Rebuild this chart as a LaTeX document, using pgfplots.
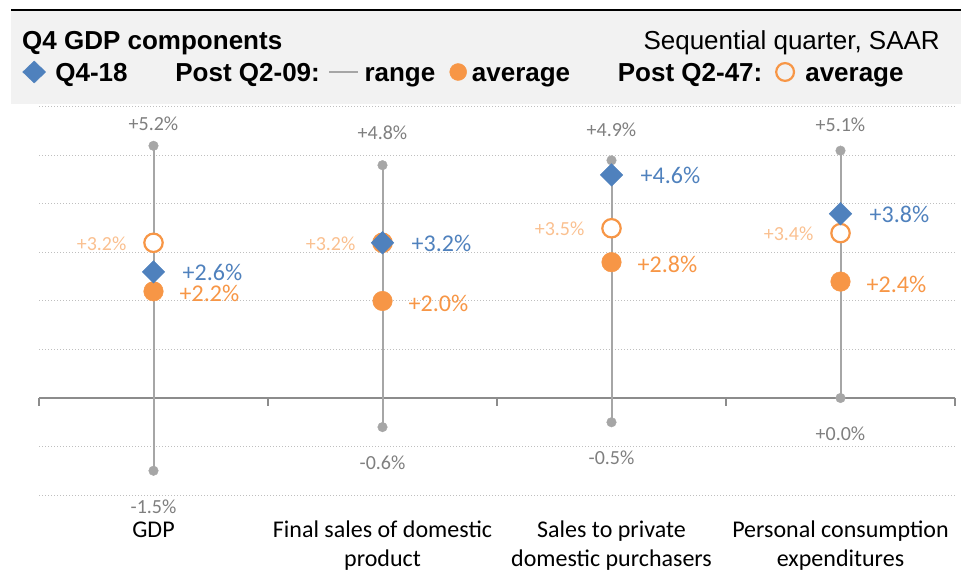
\documentclass[border=0pt]{standalone}
\usepackage{fontspec}
\setmainfont{Carlito}
\newfontfamily\arialfont{Liberation Sans}
\usepackage{pgfplots}
\pgfplotsset{compat=1.18}
\usepackage{pgfplotstable}

\definecolor{blueQ}{HTML}{4F81BD}
\definecolor{orangeA}{HTML}{F79646}
\definecolor{lightorange}{HTML}{FAC090}
\definecolor{labelgray}{HTML}{7F7F7F}
\definecolor{rangegray}{HTML}{A6A6A6}
\definecolor{gridgray}{HTML}{BFBFBF}
\definecolor{axisgray}{HTML}{8C8C8C}
\definecolor{boxfill}{HTML}{F2F2F2}

\pgfplotstableread{
x lo hi q4 avgA avgB dytop lolab hilab q4lab avgAlab avgBlab
0 -1.5 5.2 2.6 2.2 3.2 22 -1.5 +5.2 +2.6 +2.2 +3.2
1 -0.6 4.8 3.2 2.0 3.2 32 -0.6 +4.8 +3.2 +2.0 +3.2
2 -0.5 4.9 4.6 2.8 3.5 31 -0.5 +4.9 +4.6 +2.8 +3.5
3 0.0 5.1 3.8 2.4 3.4 26 +0.0 +5.1 +3.8 +2.4 +3.4
}\gdpdata

\begin{document}
\begin{tikzpicture}
\useasboundingbox (0bp,0bp) rectangle (961bp,571bp);
\fill[boxfill] (11bp,467bp) rectangle (961bp,561bp);
\draw[black, line width=1.8bp] (11bp,561bp) -- (961bp,561bp);
\node[anchor=base west, inner sep=0pt, font=\arialfont\bfseries\fontsize{26bp}{30bp}\selectfont] at (22bp,521bp) {Q4 GDP components};
\node[anchor=base east, inner sep=0pt, font=\arialfont\fontsize{26bp}{30bp}\selectfont] at (940bp,521bp) {Sequential quarter, SAAR};

\begin{axis}[
  at={(39bp,76bp)}, anchor=south west,
  scale only axis, width=916bp, height=388bp,
  xmin=-0.5, xmax=3.5, ymin=-2, ymax=6,
  clip=false,
  axis line style={draw=none},
  major tick length=0pt,
  xtick={0,1,2,3},
  xticklabels={{\rule{0pt}{18bp}GDP},
               {\rule{0pt}{18bp}Final sales of domestic\\product},
               {\rule{0pt}{18bp}Sales to private\\domestic purchasers},
               {\rule{0pt}{18bp}Personal consumption\\expenditures}},
  xticklabel style={align=center, anchor=north, inner sep=0pt, yshift=-24bp,
                    font=\fontsize{24bp}{29bp}\selectfont, text=black},
  ytick={-2,-1,0,1,2,3,4,5,6}, yticklabels={,,,,,,,,},
  ymajorgrids,
  grid style={gridgray, line width=1bp, dash pattern=on 1bp off 2bp},
  legend columns=-1,
  legend cell align=left,
  legend style={at={(-0.018559,1.090206)}, anchor=west, draw=none, fill=none,
                inner sep=0pt, outer sep=0pt, column sep=0pt, row sep=0pt,
                font=\arialfont\bfseries\fontsize{26bp}{30bp}\selectfont,
                nodes={inner sep=0pt, outer sep=0pt, text height=22bp, text depth=2bp}},
]
% legend
\addlegendimage{legend image code/.code={\path (0bp,0bp) (33bp,0bp);
   \fill[blueQ] (12bp,11bp) -- (23.5bp,0bp) -- (12bp,-11bp) -- (0.5bp,0bp) -- cycle;}}
\addlegendentry{\makebox[120bp][l]{Q4-18}\makebox[153bp][l]{Post Q2-09:}}
\addlegendimage{legend image code/.code={\path (0bp,0bp) (35bp,0bp);
   \draw[rangegray, line width=1.8bp] (0bp,0bp) -- (29bp,0bp);}}
\addlegendentry{\makebox[85bp][l]{range}}
\addlegendimage{legend image code/.code={\path (0bp,0bp) (22bp,0bp);
   \fill[orangeA] (8.5bp,0bp) circle[radius=8.5bp];}}
\addlegendentry{\makebox[146bp][l]{average}\makebox[157bp][l]{Post Q2-47:}}
\addlegendimage{legend image code/.code={\path (0bp,0bp) (30bp,0bp);
   \draw[orangeA, line width=2.2bp] (10bp,0bp) circle[radius=8.9bp];}}
\addlegendentry{average}

% axis line and ticks
\draw[axisgray, line width=1.4bp] (axis cs:-0.5,0) -- (axis cs:3.5,0);
\pgfplotsinvokeforeach{-0.5,0.5,1.5,2.5,3.5}{
  \draw[axisgray, line width=1.4bp] (axis cs:#1,0) -- ++(0bp,-8bp);}

% range lines
\addplot[forget plot, rangegray, line width=2bp] coordinates {(0,-1.5) (0,5.2)};
\addplot[forget plot, rangegray, line width=2bp] coordinates {(1,-0.6) (1,4.8)};
\addplot[forget plot, rangegray, line width=2bp] coordinates {(2,-0.5) (2,4.9)};
\addplot[forget plot, rangegray, line width=2bp] coordinates {(3,0.0) (3,5.1)};

% range high dots
\addplot[forget plot, only marks, mark=*, mark size=4.8bp,
  mark options={fill=rangegray, draw=rangegray, line width=0.4bp},
  point meta=explicit symbolic, nodes near coords={\pgfplotspointmeta\%},
  visualization depends on={\thisrow{dytop} \as \dy},
  every node near coord/.append style={anchor=center, yshift=\dy bp, inner sep=0pt,
     font=\fontsize{20bp}{24bp}\selectfont, text=labelgray}]
  table[x=x, y=hi, meta=hilab] {\gdpdata};
% range low dots
\addplot[forget plot, only marks, mark=*, mark size=4.8bp,
  mark options={fill=rangegray, draw=rangegray, line width=0.4bp},
  point meta=explicit symbolic, nodes near coords={\pgfplotspointmeta\%},
  every node near coord/.append style={anchor=center, yshift=-36bp, inner sep=0pt,
     font=\fontsize{20bp}{24bp}\selectfont, text=labelgray}]
  table[x=x, y=lo, meta=lolab] {\gdpdata};
% post Q2-47 average (open circles)
\addplot[forget plot, only marks, mark=*, mark size=9.2bp,
  mark options={fill=white, draw=orangeA, line width=2.2bp},
  point meta=explicit symbolic, nodes near coords={\pgfplotspointmeta\%},
  every node near coord/.append style={anchor=east, xshift=-26bp, yshift=-0.5bp, inner sep=0pt,
     font=\fontsize{20bp}{24bp}\selectfont, text=lightorange}]
  table[x=x, y=avgB, meta=avgBlab] {\gdpdata};
% post Q2-09 average
\addplot[forget plot, only marks, mark=*, mark size=9.8bp,
  mark options={fill=orangeA, draw=orangeA, line width=0.4bp},
  point meta=explicit symbolic, nodes near coords={\pgfplotspointmeta\%},
  every node near coord/.append style={anchor=west, xshift=26bp, yshift=-2.5bp, inner sep=0pt,
     font=\fontsize{24bp}{28bp}\selectfont, text=orangeA}]
  table[x=x, y=avgA, meta=avgAlab] {\gdpdata};
% Q4-18
\addplot[forget plot, only marks, mark=square*, mark size=8bp,
  mark options={rotate=45, fill=blueQ, draw=blueQ, line width=0.4bp},
  point meta=explicit symbolic, nodes near coords={\pgfplotspointmeta\%},
  every node near coord/.append style={anchor=west, xshift=29bp, yshift=-1bp, inner sep=0pt,
     font=\fontsize{24bp}{28bp}\selectfont, text=blueQ}]
  table[x=x, y=q4, meta=q4lab] {\gdpdata};
\end{axis}
\end{tikzpicture}
\end{document}
